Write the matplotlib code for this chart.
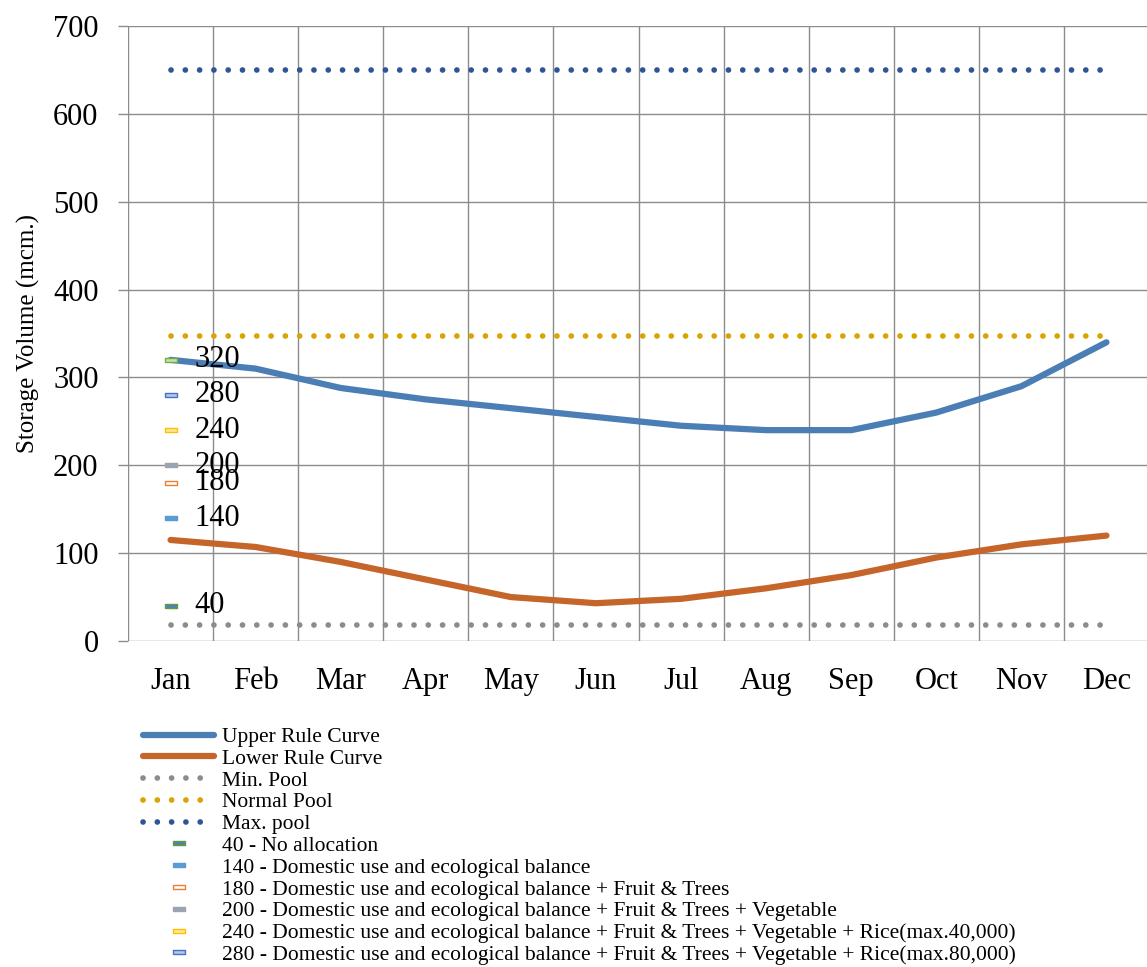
import matplotlib
matplotlib.use('Agg')
import matplotlib.pyplot as plt
import numpy as np

plt.rcParams['font.family'] = ['Liberation Serif', 'DejaVu Serif']

months = ['Jan', 'Feb', 'Mar', 'Apr', 'May', 'Jun', 'Jul', 'Aug', 'Sep', 'Oct', 'Nov', 'Dec']
upper_rule = [320, 310, 288, 275, 265, 255, 245, 240, 240, 260, 290, 340]
lower_rule = [115, 107, 90, 70, 50, 43, 48, 60, 75, 95, 110, 120]
min_pool = [18] * 12
normal_pool = [347] * 12
max_pool = [650] * 12

alloc_values = [40, 140, 180, 200, 240, 280, 320]
alloc_labels = ['40 - No allocation',
                '140 - Domestic use and ecological balance',
                '180 - Domestic use and ecological balance + Fruit & Trees',
                '200 - Domestic use and ecological balance + Fruit & Trees + Vegetable',
                '240 - Domestic use and ecological balance + Fruit & Trees + Vegetable + Rice(max.40,000)',
                '280 - Domestic use and ecological balance + Fruit & Trees + Vegetable + Rice(max.80,000)',
                '_nolegend_']
alloc_edge = ['#5E9E3A', '#5B9BD5', '#ED7D31', '#9AA5B1', '#FFC000', '#4472C4', '#70AD47']
alloc_face = ['#4F81BD', '#5B9BD5', '#FFFFFF', '#9AA5B1', '#FFE699', '#B4C7E7', '#C5E0B4']

fig = plt.figure(figsize=(11.47, 9.67), dpi=100)
ax = fig.add_axes([128 / 1147, 326 / 967, 1021 / 1147, 615 / 967])

x = np.arange(len(months))
ax.plot(x, upper_rule, color='#4A7EB5', linewidth=4.5, solid_capstyle='round', label='Upper Rule Curve', zorder=3)
ax.plot(x, lower_rule, color='#C6652A', linewidth=4.5, solid_capstyle='round', label='Lower Rule Curve', zorder=3)
dots = (0, (0.01, 2.5))
ax.plot(x, min_pool, color='#8C8C8C', linewidth=4.1, linestyle=dots, dash_capstyle='round', label='Min. Pool', zorder=3)
ax.plot(x, normal_pool, color='#D9A300', linewidth=4.1, linestyle=dots, dash_capstyle='round', label='Normal Pool', zorder=3)
ax.plot(x, max_pool, color='#2F5597', linewidth=4.1, linestyle=dots, dash_capstyle='round', label='Max. pool', zorder=3)

rect = [(-1, -0.3), (1, -0.3), (1, 0.3), (-1, 0.3), (-1, -0.3)]
for val, lab, ec, fc in zip(alloc_values, alloc_labels, alloc_edge, alloc_face):
    ax.plot([0], [val], linestyle='none', marker=rect, markersize=8, markeredgewidth=1.0,
            markeredgecolor=ec, markerfacecolor=fc, label=lab, zorder=4)
    ax.annotate(str(val), xy=(0, val), xytext=(17, 0), textcoords='offset points',
                ha='left', va='center', fontsize=22, zorder=5)

ax.set_xlim(-0.5, 11.5)
ax.set_ylim(0, 700)
ax.set_yticks(range(0, 701, 100))
ax.set_xticks(x)
ax.set_xticklabels(months)
ax.set_xticks(np.arange(-0.5, 12, 1), minor=True)

ax.grid(axis='y', which='major', color='#8C8C8C', linewidth=1.0)
ax.grid(axis='x', which='minor', color='#8C8C8C', linewidth=1.0)
ax.set_axisbelow(True)
for s in ax.spines.values():
    s.set_visible(False)

ax.tick_params(axis='x', which='both', length=0, labelsize=22, pad=19)
ax.tick_params(axis='y', which='major', length=7.2, width=1.0, color='#8C8C8C', labelsize=22, pad=14)
ax.set_ylabel('Storage Volume (mcm.)', fontsize=18)
ax.yaxis.set_label_coords(-0.086, 0.5)

ax.legend(loc='upper left', bbox_to_anchor=(143 / 1147, 240 / 967), bbox_transform=fig.transFigure,
          frameon=False, fontsize=15.5, labelspacing=0.08, handlelength=3.3, handletextpad=0.35,
          borderpad=0, borderaxespad=0, numpoints=1)

fig.savefig('out.png', dpi=100)
